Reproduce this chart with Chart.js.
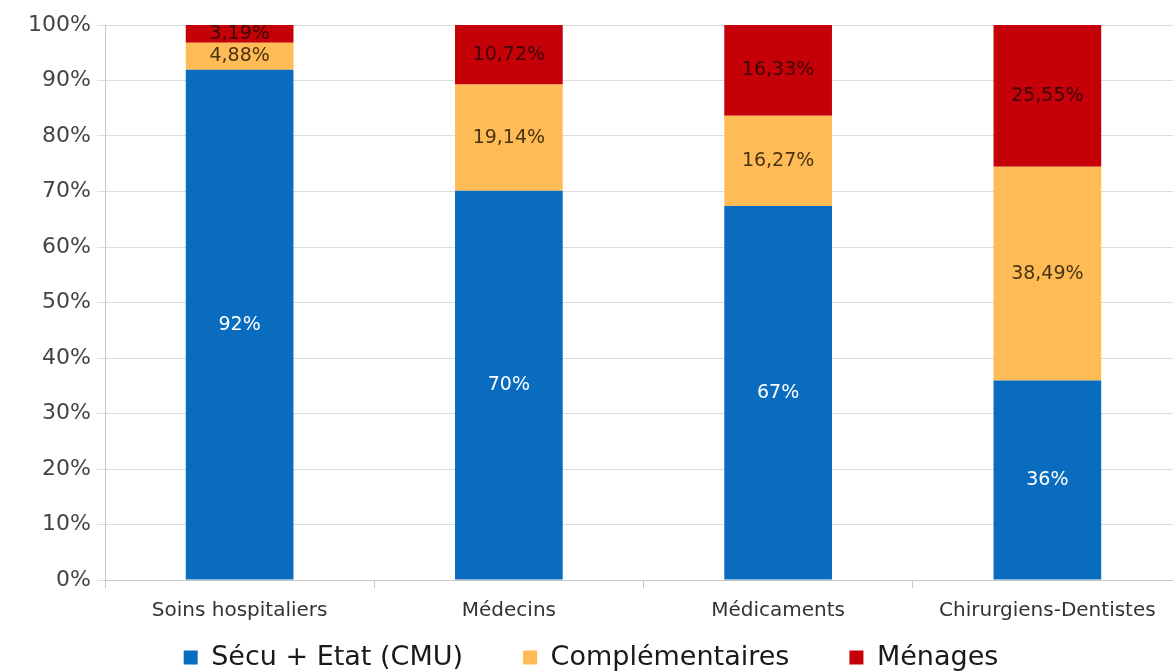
<!DOCTYPE html>
<html>
<head>
<meta charset="utf-8">
<script src="https://cdn.jsdelivr.net/npm/chart.js@4.4.1/dist/chart.umd.min.js"></script>
<style>
  html, body { margin: 0; padding: 0; background: #fff; overflow: hidden; }
  #wrap { width: 1182px; height: 671px; }
</style>
</head>
<body>
<div id="wrap"><canvas id="chart"></canvas></div>
<script>
// --- Data ---
const categories = ['Soins hospitaliers', 'Médecins', 'Médicaments', 'Chirurgiens-Dentistes'];
const secuValues = [91.93, 70.14, 67.40, 35.96];
const complValues = [4.88, 19.14, 16.27, 38.49];
const menagesValues = [3.19, 10.72, 16.33, 25.55];
const seriesNames = ['Sécu + Etat (CMU)', 'Complémentaires', 'Ménages'];
const yTicks = [0, 10, 20, 30, 40, 50, 60, 70, 80, 90, 100];

const FONT = '"DejaVu Sans", Verdana, sans-serif';

// value labels drawn in the middle of each segment
const segmentLabels = {
  id: 'segmentLabels',
  afterDatasetsDraw(chart) {
    const ctx = chart.ctx;
    const styles = [
      { color: '#ffffff', fmt: v => Math.round(v) + '%' },
      { color: '#4a3410', fmt: v => v.toFixed(2).replace('.', ',') + '%' },
      { color: '#3c0404', fmt: v => v.toFixed(2).replace('.', ',') + '%' }
    ];
    ctx.save();
    ctx.font = '19px ' + FONT;
    ctx.textAlign = 'center';
    ctx.textBaseline = 'middle';
    chart.data.datasets.forEach((ds, i) => {
      const meta = chart.getDatasetMeta(i);
      meta.data.forEach((bar, j) => {
        const top = Math.max(bar.y, chart.chartArea.top);
        const y = (top + bar.base) / 2;
        ctx.fillStyle = styles[i].color;
        ctx.fillText(styles[i].fmt(ds.data[j]), bar.x, y);
      });
    });
    ctx.restore();
  }
};

const ctx = document.getElementById('chart').getContext('2d');
const chart = new Chart(ctx, {
  type: 'bar',
  data: {
    labels: categories,
    datasets: [
      { label: seriesNames[0], data: secuValues, backgroundColor: '#0a6cbf' },
      { label: seriesNames[1], data: complValues, backgroundColor: '#ffbb55' },
      { label: seriesNames[2], data: menagesValues, backgroundColor: '#c50008' }
    ]
  },
  options: {
    responsive: true,
    maintainAspectRatio: false,
    animation: false,
    layout: { padding: { top: 25, left: 0, right: 0, bottom: -10 } },
    datasets: { bar: { barPercentage: 0.4, categoryPercentage: 1 } },
    plugins: {
      legend: {
        position: 'bottom',
        labels: {
          font: { family: FONT, size: 27 },
          color: '#1a1a1a',
          boxWidth: 14,
          boxHeight: 14,
          padding: 0,
          // wider gap between legend entries, like the original
          generateLabels: c => {
            const items = Chart.defaults.plugins.legend.labels.generateLabels(c);
            items.forEach((it, i) => { if (i < items.length - 1) it.text += '       '; });
            return items;
          }
        }
      },
      tooltip: { enabled: false }
    },
    scales: {
      x: {
        stacked: true,
        afterFit: s => { s.height = 64; },
        grid: { display: true, drawOnChartArea: false, offset: true, color: '#c8c8c8', tickLength: 8 },
        border: { color: '#c8c8c8' },
        ticks: { font: { family: FONT, size: 20 }, color: '#333', padding: 11, maxRotation: 0 }
      },
      y: {
        stacked: true,
        min: 0,
        max: 100,
        afterBuildTicks: s => { s.ticks = yTicks.map(v => ({ value: v })); },
        afterFit: s => { s.width = 105; },
        grid: { color: '#dcdcdc', tickLength: 8 },
        border: { color: '#c8c8c8' },
        ticks: { font: { family: FONT, size: 22 }, color: '#444', padding: 6, callback: v => v + '%' }
      }
    }
  },
  plugins: [segmentLabels]
});
</script>
</body>
</html>
